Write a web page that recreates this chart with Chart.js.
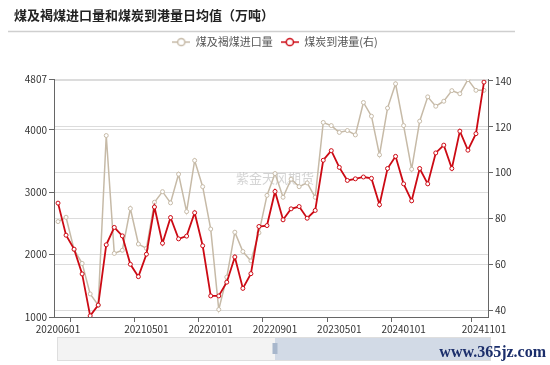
<!DOCTYPE html>
<html>
<head>
<meta charset="utf-8">
<script src="https://cdn.jsdelivr.net/npm/chart.js@4.4.1/dist/chart.umd.min.js"></script>
<style>
  html, body { margin: 0; padding: 0; background: #fff; }
  #wrap { width: 550px; height: 365px; }
</style>
</head>
<body>
<div id="wrap"><canvas id="coalChart" width="550" height="365"></canvas></div>
<script>
// months (category axis)
const months = [
    '20200601', '20200701', '20200801', '20200901', '20201001', '20201101', '20201201',
    '20210101', '20210201', '20210301', '20210401', '20210501', '20210601', '20210701', '20210801', '20210901', '20211001', '20211101', '20211201',
    '20220101', '20220201', '20220301', '20220401', '20220501', '20220601', '20220701', '20220801', '20220901', '20221001', '20221101', '20221201',
    '20230101', '20230201', '20230301', '20230401', '20230501', '20230601', '20230701', '20230801', '20230901', '20231001', '20231101', '20231201',
    '20240101', '20240201', '20240301', '20240401', '20240501', '20240601', '20240701', '20240801', '20240901', '20241001', '20241101'
];

// 煤及褐煤进口量 (left axis)
const importVol = [
    2530, 2600, 2080, 1860, 1370, 1190, 3910,
    2020, 2070, 2740, 2170, 2100, 2840, 3010, 2830, 3290, 2690, 3510, 3090,
    2410, 1120, 1640, 2360, 2050, 1900, 2350, 2950, 3300, 2920, 3210, 3090,
    3150, 2920, 4120, 4070, 3960, 3990, 3920, 4440, 4220, 3600, 4350, 4740,
    4070, 3370, 4140, 4530, 4380, 4460, 4630, 4580, 4807, 4635, 4635
];

// 煤炭到港量 (right axis)
const portArrival = [
    86.7, 72.7, 66.6, 55.8, 37.5, 42.2, 68.5,
    76.1, 72.4, 60.0, 54.6, 64.4, 85.0, 69.2, 80.4, 71.1, 72.3, 82.5, 68.1,
    46.2, 46.2, 52.2, 63.2, 49.5, 55.9, 76.5, 76.9, 91.8, 79.4, 84.2, 85.2,
    80.1, 83.5, 105.4, 109.6, 102.3, 96.6, 97.3, 98.1, 97.5, 86.0, 101.8, 107.1,
    95.1, 87.7, 101.8, 95.1, 108.6, 112.0, 101.8, 118.1, 109.8, 117.0, 139.5
];

const leftTicks = [1000, 2000, 3000, 4000, 4807];
const rightTicks = [40, 60, 80, 100, 120, 140];
const shownMonths = ['20200601', '20210501', '20220101', '20220901', '20230501', '20240101', '20241101'];
const tickMarkBounds = [2, 10, 18, 26, 34, 42, 52];

const GREY = '#c6baa7';
const RED = '#cc0a14';
const FONT = '"Noto Sans CJK SC", "Noto Sans", sans-serif';

// little "-o-" icon for the legend, like the original
function legendIcon(color) {
    const c = document.createElement('canvas');
    c.width = 18; c.height = 10;
    const g = c.getContext('2d');
    g.strokeStyle = color;
    g.lineWidth = 1.5;
    g.beginPath(); g.moveTo(0, 5); g.lineTo(18, 5); g.stroke();
    g.fillStyle = '#fff';
    g.beginPath(); g.arc(9, 5, 3.6, 0, Math.PI * 2); g.fill(); g.stroke();
    return c;
}

// push the plot area down below the legend
const legendSpacer = {
    id: 'legendSpacer',
    beforeInit(chart) {
        const origFit = chart.legend.fit;
        chart.legend.fit = function () {
            origFit.call(this);
            this.height += 22;
        };
    }
};

const decor = {
    id: 'decor',
    beforeDatasetsDraw(chart) {
        const ctx = chart.ctx;
        ctx.save();
        ctx.font = '13px ' + FONT;
        ctx.fillStyle = 'rgba(170,170,170,0.5)';
        ctx.textAlign = 'center';
        ctx.textBaseline = 'middle';
        ctx.fillText('紫金天风期货', 275, 178);
        ctx.restore();
    },
    afterDraw(chart) {
        const ctx = chart.ctx;
        ctx.save();
        // line under the title
        ctx.strokeStyle = '#cfcfcf';
        ctx.lineWidth = 1.5;
        ctx.beginPath(); ctx.moveTo(8, 31.5); ctx.lineTo(515, 31.5); ctx.stroke();

        // data zoom slider
        const x0 = 57, x1 = 490, y0 = 337, y1 = 360, sel = 275;
        ctx.fillStyle = '#f3f3f3';
        ctx.fillRect(x0, y0, x1 - x0, y1 - y0);
        ctx.fillStyle = 'rgba(170,188,214,0.45)';
        ctx.fillRect(sel, y0, x1 - sel, y1 - y0);
        ctx.strokeStyle = '#dedede';
        ctx.lineWidth = 1;
        ctx.strokeRect(x0 + 0.5, y0 + 0.5, x1 - x0, y1 - y0);
        ctx.fillStyle = '#a8b7cc';
        ctx.fillRect(sel - 2.5, y0 + 6, 5, 11);

        // site mark
        ctx.font = 'bold 16px "Liberation Serif", serif';
        ctx.fillStyle = '#1b2e6b';
        ctx.textAlign = 'right';
        ctx.textBaseline = 'alphabetic';
        ctx.fillText('www.365jz.com', 546, 357);
        ctx.restore();
    }
};

new Chart(document.getElementById('coalChart'), {
    type: 'line',
    data: {
        labels: months,
        datasets: [
            {
                label: '煤炭到港量(右)',
                data: portArrival,
                yAxisID: 'y1',
                borderColor: RED,
                borderWidth: 1.8,
                pointRadius: 2,
                pointBorderWidth: 1,
                pointBackgroundColor: '#fff',
                pointBorderColor: RED,
                tension: 0
            },
            {
                label: '煤及褐煤进口量',
                data: importVol,
                yAxisID: 'y',
                borderColor: GREY,
                borderWidth: 1.5,
                pointRadius: 2,
                pointBorderWidth: 1,
                pointBackgroundColor: '#fff',
                pointBorderColor: GREY,
                tension: 0
            }
        ]
    },
    options: {
        responsive: false,
        animation: false,
        devicePixelRatio: 1,
        layout: { padding: { left: 14, right: 14, top: 0, bottom: 0 } },
        plugins: {
            tooltip: { enabled: false },
            title: {
                display: true,
                text: '煤及褐煤进口量和煤炭到港量日均值（万吨）',
                align: 'start',
                color: '#222',
                font: { family: FONT, size: 13, weight: 'bold' },
                padding: { top: 7, bottom: 6 }
            },
            legend: {
                display: true,
                position: 'top',
                reverse: true,
                labels: {
                    usePointStyle: true,
                    pointStyleWidth: 18,
                    boxHeight: 10,
                    padding: 8,
                    color: '#555',
                    font: { family: FONT, size: 11 },
                    generateLabels(chart) {
                        const items = Chart.defaults.plugins.legend.labels.generateLabels(chart);
                        items.forEach(it => {
                            it.pointStyle = legendIcon(chart.data.datasets[it.datasetIndex].borderColor);
                        });
                        return items;
                    }
                }
            }
        },
        scales: {
            x: {
                type: 'category',
                offset: true,
                afterFit(scale) { scale.height = 48; },
                border: { display: true, color: '#666' },
                grid: {
                    offset: true,
                    drawOnChartArea: false,
                    drawTicks: true,
                    tickLength: 5,
                    tickColor: ctx => tickMarkBounds.includes(ctx.index) ? '#666' : 'rgba(0,0,0,0)'
                },
                ticks: {
                    autoSkip: false,
                    maxRotation: 0,
                    minRotation: 0,
                    padding: 1,
                    color: '#333',
                    font: { family: FONT, size: 10 },
                    callback(val, idx) {
                        const m = months[idx];
                        return shownMonths.includes(m) ? m : '';
                    }
                }
            },
            y: {
                position: 'left',
                min: 1000,
                max: 4807,
                afterFit(scale) { scale.width = 40; },
                afterBuildTicks(axis) { axis.ticks = leftTicks.map(v => ({ value: v })); },
                border: { display: true, color: '#666' },
                grid: { color: '#dcdcdc', tickColor: '#666', tickLength: 5 },
                ticks: {
                    padding: 2, color: '#333', font: { family: FONT, size: 10 },
                    callback: v => String(v)
                }
            },
            y1: {
                position: 'right',
                min: 37,
                max: 140.6,
                afterFit(scale) { scale.width = 48; },
                afterBuildTicks(axis) { axis.ticks = rightTicks.map(v => ({ value: v })); },
                border: { display: true, color: '#666' },
                grid: { color: '#dcdcdc', tickColor: '#666', tickLength: 5 },
                ticks: {
                    padding: 2, color: '#333', font: { family: FONT, size: 10 },
                    callback: v => String(v)
                }
            }
        }
    },
    plugins: [legendSpacer, decor]
});
</script>
</body>
</html>
